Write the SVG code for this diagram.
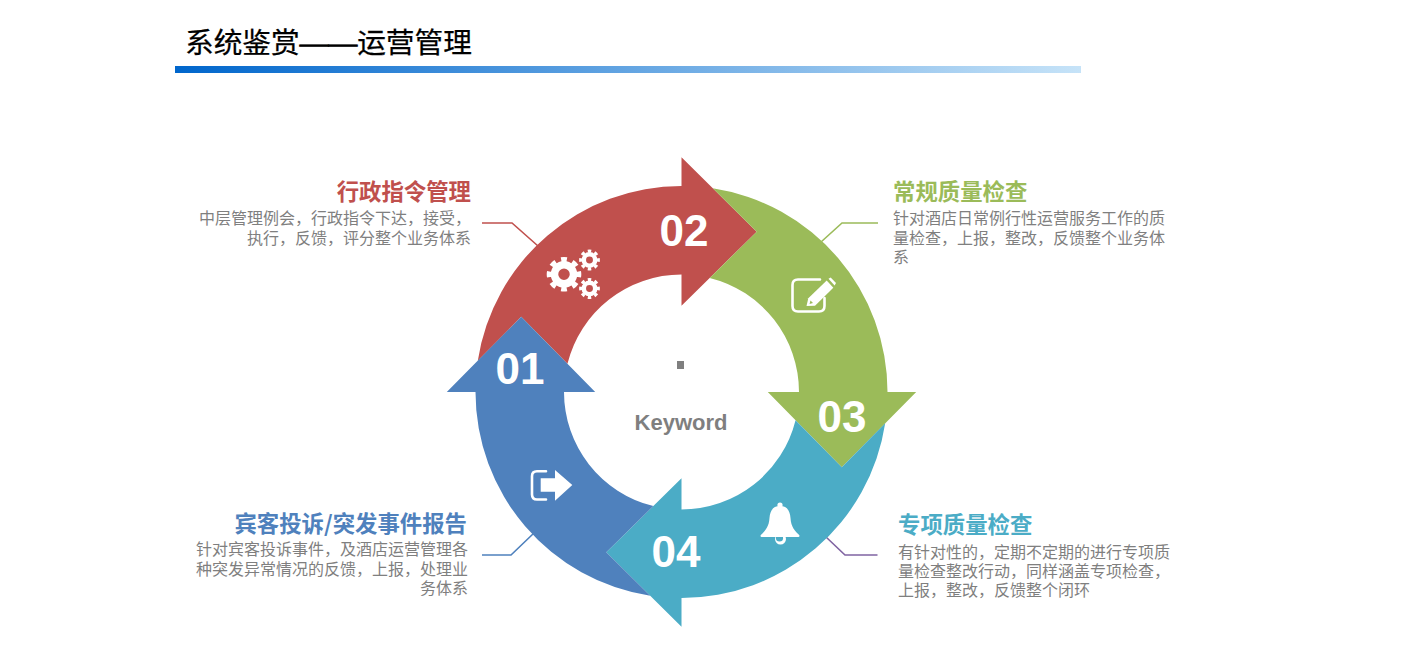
<svg xmlns="http://www.w3.org/2000/svg" xmlns:xlink="http://www.w3.org/1999/xlink" width="1406" height="663" viewBox="0 0 1406 663">
<style>
text{font-family:"Liberation Sans","Noto Sans CJK SC",sans-serif}
.title{font-family:"Noto Sans CJK SC",sans-serif;font-size:28.7px;fill:#000;stroke:#000;stroke-width:.25}
.dash{font-family:"Liberation Serif",serif;stroke-width:.9}
.h{font-family:"Noto Sans CJK SC",sans-serif;font-size:22.4px;font-weight:700}
.b{font-family:"Noto Sans CJK SC",sans-serif;font-size:16px;fill:#7f7f7f}
.e{text-anchor:end}
.num{font-size:44px;font-weight:700;fill:#fff;text-anchor:middle}
.c{fill:none;stroke-width:1.6}
.ws{fill:none;stroke:#fff;stroke-width:2.6;stroke-linecap:round;stroke-linejoin:round}
.red{fill:#c0504d}.green{fill:#9bbb59}.teal{fill:#4bacc6}.blue{fill:#4f81bd}
</style>
<defs>
<linearGradient id="bar" x1="0" y1="0" x2="1" y2="0"><stop offset="0" stop-color="#0066cc"/><stop offset="1" stop-color="#c6e3f8"/></linearGradient>
<g id="gear">
<circle r="9.5" fill="none" stroke="#fff" stroke-width="7.5"/>
<circle r="14.8" fill="none" stroke="#fff" stroke-width="5" pathLength="16" stroke-dasharray="1 1" stroke-dashoffset="0.5"/>
</g>
</defs>
<g id="header">
<text class="title" x="185" y="53">系统鉴赏<tspan class="dash">——</tspan>运营管理</text>
<rect x="175" y="66" width="906" height="7" fill="url(#bar)"/>
</g>
<g id="connectors">
<polyline class="c" stroke="#c0504d" points="482,223 512,223 538,246"/>
<polyline class="c" stroke="#9bbb59" points="878,223 842,223 821,242"/>
<polyline class="c" stroke="#4f81bd" points="482,555 511,555 534,533"/>
<polyline class="c" stroke="#8064a2" points="877.5,555 845,555 826,537"/>
</g>
<g id="node-02">
<path class="red" d="M477.8,360.7A206,206 0 0 1 681.5,186V157.3L756.7,231.7L681.5,305.7V274.5A117.5,117.5 0 0 0 567.45,363.8L521.2,316.8Z"/>
<text class="num" x="684" y="245.5">02</text>
<use xlink:href="#gear" href="#gear" transform="translate(564,274.3)"/>
<use xlink:href="#gear" href="#gear" transform="translate(589.5,260) scale(.6)"/>
<use xlink:href="#gear" href="#gear" transform="translate(589.5,288.5) scale(.6)"/>
<text class="h e" x="471" y="200" style="fill:#c0504d">行政指令管理</text>
<text class="b e" y="224"><tspan x="471">中层管理例会，行政指令下达，接受，</tspan><tspan x="471" dy="20">执行，反馈，评分整个业务体系</tspan></text>
</g>
<g id="node-03">
<path class="green" d="M712.8,188.3A206,206 0 0 1 887.5,392H916.2L841.8,467.2L767.8,392H799A117.5,117.5 0 0 0 709.7,277.95L756.7,231.7Z"/>
<text class="num" x="842" y="432">03</text>
<path class="ws" d="M820,279.5H798Q792.5,279.5 792.5,285V306Q792.5,311.5 798,311.5H819Q824.5,311.5 824.5,306V298"/>
<path d="M808.3,298.3L826.7,280.6L833.3,287.7L815,305.7L806.5,306Z" fill="#fff"/>
<path d="M828.5,278.8L830.7,277.5L836,283L834.6,285.6Z" fill="#fff"/>
<path d="M810.5,300.5L813,303L809.5,304Z" fill="#9bbb59"/>
<text class="h" x="893" y="200" style="fill:#9bbb59">常规质量检查</text>
<text class="b" y="224"><tspan x="893">针对酒店日常例行性运营服务工作的质</tspan><tspan x="893" dy="20">量检查，上报，整改，反馈整个业务体</tspan><tspan x="893" dy="19">系</tspan></text>
</g>
<g id="node-04">
<path class="teal" d="M885.2,423.3A206,206 0 0 1 681.5,598V626.7L606.3,552.3L681.5,478.3V509.5A117.5,117.5 0 0 0 795.55,420.2L841.8,467.2Z"/>
<text class="num" x="676" y="566.5">04</text>
<circle cx="780.5" cy="539" r="5.5" fill="#fff"/>
<circle cx="779.5" cy="538" r="3.6" fill="#4bacc6"/>
<circle cx="780" cy="505" r="2.6" fill="#fff"/>
<path d="M780,506C772,506 770,512 769.5,518C769,527 765,531 760.8,535C760,536.5 761,537 762,537H798C799,537 800,536.5 799.2,535C795,531 791,527 790.5,518C790,512 788,506 780,506Z" fill="#fff"/>
<text class="h" x="898" y="533" style="fill:#4bacc6">专项质量检查</text>
<text class="b" y="558"><tspan x="898">有针对性的，定期不定期的进行专项质</tspan><tspan x="898" dy="19">量检查整改行动，同样涵盖专项检查，</tspan><tspan x="898" dy="19">上报，整改，反馈整个闭环</tspan></text>
</g>
<g id="node-01">
<path class="blue" d="M650.2,595.7A206,206 0 0 1 475.5,392H446.8L521.2,316.8L595.2,392H564A117.5,117.5 0 0 0 653.3,506.05L606.3,552.3Z"/>
<text class="num" x="520" y="383.5">01</text>
<path class="ws" d="M546,471.3H537Q532,471.3 532,476.3V494.5Q532,499.5 537,499.5H546"/>
<path d="M540.7,478.3H555V470L572.3,485L555,500.7V491.7H540.7Z" fill="#fff"/>
<text class="h e" x="467" y="532" style="fill:#4f81bd">宾客投诉/突发事件报告</text>
<text class="b e" y="555"><tspan x="468">针对宾客投诉事件，及酒店运营管理各</tspan><tspan x="468" dy="20">种突发异常情况的反馈，上报，处理业</tspan><tspan x="468" dy="19">务体系</tspan></text>
</g>
<g id="center">
<rect x="677" y="361" width="7" height="8" fill="#7f7f7f"/>
<text x="681" y="430" font-size="22" font-weight="700" fill="#7f7f7f" text-anchor="middle">Keyword</text>
</g>
</svg>
